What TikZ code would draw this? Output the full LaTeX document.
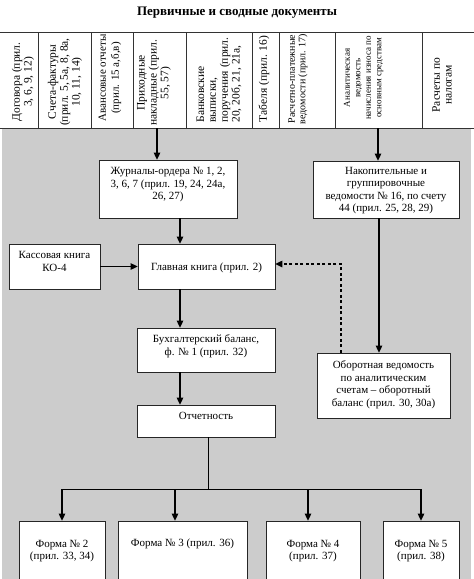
\documentclass[tikz,border=0pt]{standalone}
\usepackage{fontspec}
\setmainfont{Liberation Serif}
\usetikzlibrary{arrows.meta}
\tikzset{
  box/.style={draw=black!85, fill=white, line width=0.7pt, inner sep=0pt},
  txt/.style={align=center, inner sep=0pt, font=\fontsize{11}{12.5}\selectfont},
  hdr/.style={rotate=90, align=center, inner sep=0pt, font=\fontsize{11.5}{11.8}\selectfont},
  rule/.style={draw=black!80, line width=0.7pt},
  arr/.style={draw=black, line width=1.1pt, -{Triangle[length=7pt,width=6.5pt]}},
  thin/.style={draw=black, line width=0.8pt},
  dsh/.style={draw=black, line width=1.2pt, dash pattern=on 3pt off 2.5pt, -{Triangle[length=7pt,width=6.5pt]}}
}
\begin{document}
\begin{tikzpicture}[x=1pt,y=-1pt]
\useasboundingbox (0,0) rectangle (474,579);
% title
\node[font=\bfseries\fontsize{13}{15}\selectfont, inner sep=0pt] (title) at (237,13) {Первичные и сводные документы};
% gray area
\fill[black!20] (2,128) rectangle (471,579);
% header grid
\draw[rule] (0,32) -- (474,32);
\draw[rule] (0,128) -- (474,128);
\foreach \x in {38,91,133,186,252,279,335,422} \draw[rule] (\x,32) -- (\x,128);
% header texts
\node[hdr] (h1) at (23,82) {Договора (прил.\\3, 6, 9, 12)};
\node[hdr] (h2) at (65,82) {Счета-фактуры\\(прил. 5, 5а, 8, 8а,\\10, 11, 14)};
\node[hdr, font=\fontsize{11}{13}\selectfont] (h3) at (110,78) {Авансовые отчеты\\(прил. 15 а,б,в)};
\node[hdr] (h4) at (154,83) {Приходные\\накладные (прил.\\55, 57)};
\node[hdr, align=left] (h5) at (219,80) {Банковские\\выписки,\\поручения (прил.\\20, 20б, 21, 21а,};
\node[hdr] (h6) at (264,79) {Табеля (прил. 16)};
\node[hdr, font=\fontsize{10}{10.5}\selectfont] (h7) at (298,79) {Расчетно-платежные\\ведомости (прил. 17)};
\node[hdr, font=\fontsize{9}{10.5}\selectfont] (h8) at (363.5,78) {Аналитическая\\ведомость\\начисления износа по\\основным средствам};
\node[hdr] (h9) at (442,85) {Расчеты по\\налогам};
% boxes
\node[box, minimum width=138pt, minimum height=58pt] (jo) at (168,189) {};
\node[box, minimum width=146pt, minimum height=57pt] (nak) at (386,189.5) {};
\node[box, minimum width=91pt, minimum height=45pt] (kas) at (54.5,266.5) {};
\node[box, minimum width=137pt, minimum height=45pt] (gl) at (206.5,266.5) {};
\node[box, minimum width=138pt, minimum height=44pt] (bb) at (206,350) {};
\node[box, minimum width=138pt, minimum height=32pt] (ot) at (206,421) {};
\node[box, minimum width=133pt, minimum height=65pt] (ob) at (383.5,385.5) {};
\node[box, minimum width=86pt, minimum height=64pt] (f2) at (62,553) {};
\node[box, minimum width=129pt, minimum height=64pt] (f3) at (182.5,553) {};
\node[box, minimum width=94pt, minimum height=64pt] (f4) at (313,553) {};
\node[box, minimum width=76pt, minimum height=64pt] (f5) at (421,553) {};
% box texts
\node[txt] (jo-t) at ([yshift=4pt]jo.center) {Журналы-ордера № 1, 2,\\3, 6, 7 (прил. 19, 24, 24а,\\26, 27)};
\node[txt] (nak-t) at ([yshift=-1pt]nak.center) {Накопительные и\\группировочные\\ведомости № 16, по счету\\44 (прил. 25, 28, 29)};
\node[txt] (kas-t) at ([yshift=5pt]kas.center) {Кассовая книга\\КО-4};
\node[txt] (gl-t) at ([yshift=-1pt]gl.center) {Главная книга (прил. 2)};
\node[txt] (bb-t) at ([yshift=4pt]bb.center) {Бухгалтерский баланс,\\ф. № 1 (прил. 32)};
\node[txt] (ot-t) at ([yshift=5pt]ot.center) {Отчетность};
\node[txt] (ob-t) at ([yshift=1pt]ob.center) {Оборотная ведомость\\по аналитическим\\счетам – оборотный\\баланс (прил. 30, 30а)};
\node[txt] (f2-t) at ([yshift=2pt]f2.center) {Форма № 2\\(прил. 33, 34)};
\node[txt] (f3-t) at ([yshift=9pt]f3.center) {Форма № 3 (прил. 36)};
\node[txt] (f4-t) at ([yshift=2pt]f4.center) {Форма № 4\\(прил. 37)};
\node[txt] (f5-t) at ([yshift=2pt]f5.center) {Форма № 5\\(прил. 38)};
% connectors
\coordinate (s1) at (157,128);
\coordinate (s2) at (378,128);
\draw[arr] (s1) -- (s1 |- jo.north);
\draw[arr] (s2) -- (s2 |- nak.north);
\draw[arr] (180,0 |- jo.south) -- (180,0 |- gl.north);
\draw[arr] (kas.east) -- (kas.east -| gl.west);
\draw[arr] (379,0 |- nak.south) -- (379,0 |- ob.north);
\coordinate (dc) at (341,264);
\draw[dsh] (dc |- ob.north) -- (dc) -- (dc -| gl.east);
\draw[arr] (180,0 |- gl.south) -- (180,0 |- bb.north);
\draw[arr] (180,0 |- bb.south) -- (180,0 |- ot.north);
\coordinate (br) at (208,489);
\draw[thin] (br |- ot.south) -- (br);
\draw[thin] (f2.north |- br) -- (f5.north |- br);
\draw[arr] (f2.north |- br) -- (f2.north);
\draw[arr] (175,489) -- (175,0 |- f3.north);
\draw[arr] (308,489) -- (308,0 |- f4.north);
\draw[arr] (f5.north |- br) -- (f5.north);
\end{tikzpicture}
\end{document}
